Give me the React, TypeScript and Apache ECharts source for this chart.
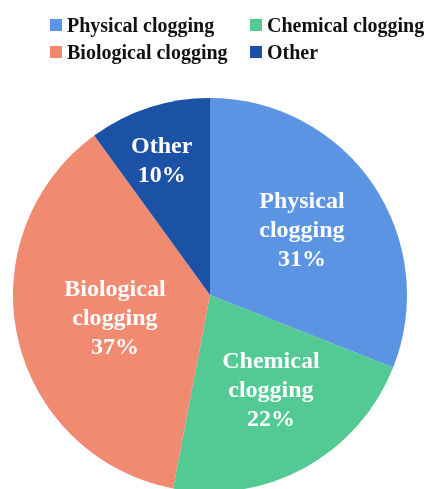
import React, { useEffect, useRef } from "react";
import * as echarts from "echarts";

const categories = ["Physical clogging", "Chemical clogging", "Biological clogging", "Other"];
const labelNames = ["Physical\nclogging", "Chemical\nclogging", "Biological\nclogging", "Other"];
const values = [31, 22, 37, 10];
const colors = ["#5C94E4", "#53C994", "#F08A71", "#1B52A6"];
// label nudges relative to the default inside position
const labelOffsets: [number, number][] = [[8, -9], [12, 5], [4, 0], [-17, -39]];

export default function App() {
  const ref = useRef<HTMLDivElement>(null);
  useEffect(() => {
    document.body.style.margin = "0";
    const chart = echarts.init(ref.current!, null, { renderer: "svg" });
    const font = "'Liberation Serif', 'Times New Roman', serif";
    const legendBase = {
      orient: "vertical",
      top: 10,
      itemWidth: 12,
      itemHeight: 12,
      itemGap: 7,
      icon: "rect",
      textStyle: { fontFamily: font, fontWeight: "bold", fontSize: 20, color: "#111" },
    };
    chart.setOption({
      animation: false,
      color: colors,
      legend: [
        { ...legendBase, data: [categories[0], categories[2]], left: 45 },
        { ...legendBase, data: [categories[1], categories[3]], left: 245 },
      ],
      series: [
        {
          type: "pie",
          center: [210, 295],
          radius: 197,
          startAngle: 90,
          clockwise: true,
          label: {
            show: true,
            position: "inside",
            fontFamily: font,
            fontWeight: "bold",
            fontSize: 24,
            lineHeight: 29,
            color: "#fff",
            align: "center",
            formatter: (p: any) => labelNames[p.dataIndex] + "\n" + p.value + "%",
          },
          labelLayout: (p: any) => ({ dx: labelOffsets[p.dataIndex][0], dy: labelOffsets[p.dataIndex][1] }),
          itemStyle: { borderWidth: 0 },
          emphasis: { disabled: true },
          data: categories.map((c, i) => ({ name: c, value: values[i] })),
        },
      ],
    });
    return () => chart.dispose();
  }, []);
  return <div ref={ref} style={{ position: "fixed", left: 0, top: 0, width: 427, height: 489 }} />;
}
